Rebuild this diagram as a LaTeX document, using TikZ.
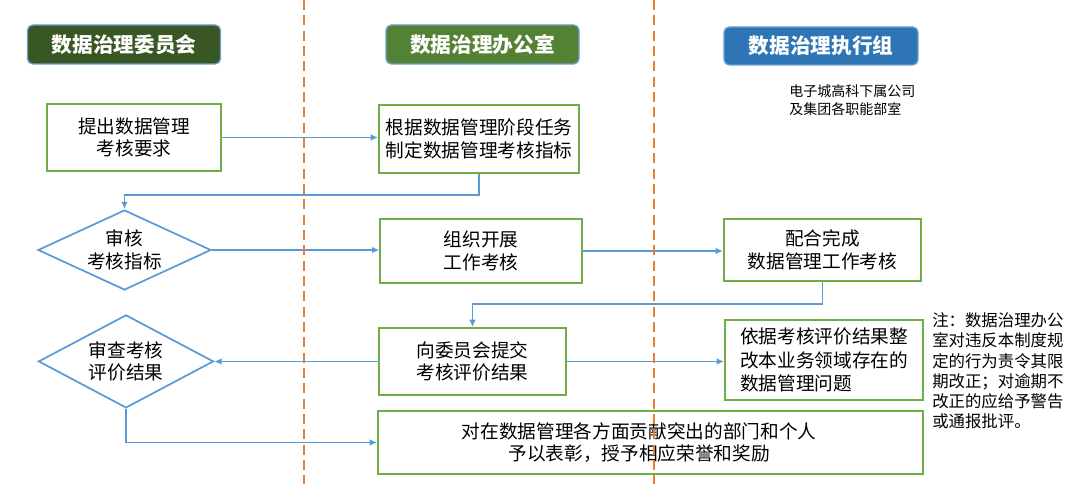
\documentclass[tikz,border=0pt]{standalone}
\usepackage{fontspec}
\setmainfont{Noto Sans CJK SC}
\usetikzlibrary{shapes.geometric,arrows.meta,calc}
\definecolor{gborder}{HTML}{70AD47}
\definecolor{bline}{HTML}{5B9BD5}
\definecolor{odash}{HTML}{ED7D31}
\definecolor{hone}{HTML}{385723}
\definecolor{htwo}{HTML}{548235}
\definecolor{hthree}{HTML}{2E75B6}
\definecolor{hedge}{HTML}{6A9FD0}
\begin{document}
\begin{tikzpicture}[x=0.75pt,y=-0.75pt,
  box/.style={draw=gborder,line width=1.5pt,fill=white,align=center,
    font=\fontsize{14}{17}\selectfont,inner sep=0pt},
  dia/.style={diamond,draw=bline,line width=1.3pt,fill=white,inner sep=0pt},
  diatext/.style={align=center,font=\fontsize{14}{17}\selectfont},
  head/.style={draw=hedge,line width=1pt,rounded corners=4pt,text=white,
    font=\fontsize{15.5}{18}\selectfont\bfseries,inner sep=0pt},
  arr/.style={draw=bline,line width=1.4pt,-{Latex[length=5.5pt,width=5pt]}},
  lane/.style={draw=odash,line width=1.4pt,dash pattern=on 7.5pt off 4pt}
]
\useasboundingbox (0,0) rectangle (1080,484);
\fill[white] (0,0) rectangle (1080,484);

% headers
\node[head,fill=hone,minimum width=144.75pt,minimum height=29.25pt] (h1) at (124,44.5) {数据治理委员会};
\node[head,fill=htwo,minimum width=144.75pt,minimum height=29.25pt] (h2) at (482.5,44.5) {数据治理办公室};
\node[head,fill=hthree,minimum width=145.5pt,minimum height=28.5pt] (h3) at (821,46) {数据治理执行组};

\node[anchor=west,align=left,inner sep=0pt,font=\fontsize{10.5}{13.9}\selectfont] (sub) at (789,100)
  {电子城高科下属公司\\及集团各职能部室};

% boxes
\node[box,minimum width=130.5pt,minimum height=50.25pt] (b1) at (134,137.5) {提出数据管理\\考核要求};
\node[box,minimum width=150pt,minimum height=51pt] (b2) at (479,139) {根据数据管理阶段任务\\制定数据管理考核指标};
\node[dia,minimum width=129.75pt,minimum height=60pt,
  label={[diatext]center:审核\\考核指标}] (d1) at (124.5,250) {};
\node[box,minimum width=151pt,minimum height=48pt] (b3) at (481,251) {组织开展\\工作考核};
\node[box,minimum width=147.75pt,minimum height=46.5pt] (b6) at (822.5,250) {配合完成\\数据管理工作考核};
\node[dia,minimum width=131.25pt,minimum height=69.75pt,
  label={[diatext]center:审查考核\\评价结果}] (d2) at (126,361.4) {};
\node[box,minimum width=140.25pt,minimum height=50.25pt] (b4) at (472.5,361.5) {向委员会提交\\考核评价结果};
\node[box,minimum width=148.5pt,minimum height=60pt,align=left,
  font=\fontsize{14}{17.4}\selectfont] (b7) at (824,360) {依据考核评价结果整\\改本业务领域存在的\\数据管理问题};
\node[box,minimum width=408.75pt,minimum height=47.25pt] (b5) at (650.5,442.5) {};
\node[align=center,inner sep=0pt,font=\fontsize{14}{17}\selectfont] (b5t) at (639,442.5)
  {对在数据管理各方面贡献突出的部门和个人\\予以表彰，授予相应荣誉和奖励};

\node[anchor=west,align=left,inner sep=0pt,font=\fontsize{12.3}{15.2}\selectfont] (note) at (932,371)
  {注：数据治理办公\\室对违反本制度规\\定的行为责令其限\\期改正；对逾期不\\改正的应给予警告\\或通报批评。};

% junction levels
\coordinate (j1) at (0,195);
\coordinate (j2) at (0,304);

% connectors
\draw[arr] (b1.east) -- (b1.east -| b2.west);
\draw[arr] (b2.south) -- (b2.south |- j1) -| (d1.north);
\draw[arr] (d1.east) -- (d1.east -| b3.west);
\draw[arr] (b3.east) -- (b3.east -| b6.west);
\draw[arr] (b6.south) -- (b6.south |- j2) -| (b4.north);
\draw[arr] (b4.west) -- (b4.west -| d2.east);
\draw[arr] (b4.east) -- (b4.east -| b7.west);
\draw[arr] (d2.south) |- (b5.west);

% lane separators
\draw[lane] (304,0) -- (304,484);
\draw[lane] (654,0) -- (654,484);
\end{tikzpicture}
\end{document}
